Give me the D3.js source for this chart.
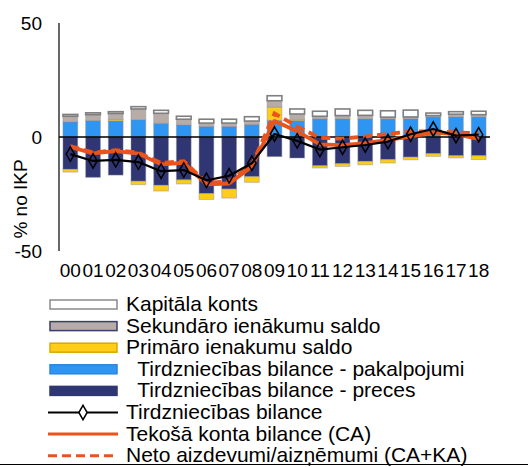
<!DOCTYPE html>
<html>
<head>
<meta charset="utf-8">
<script src="https://cdn.jsdelivr.net/npm/d3@7"></script>
<style>
  html, body { margin: 0; padding: 0; background: #fff; }
  svg { display: block; font-family: "Liberation Sans", Arial, sans-serif; }
</style>
</head>
<body>
<svg id="chart" width="528" height="467"></svg>
<script>
// ---- data (% no IKP) ----
const categories = ["00","01","02","03","04","05","06","07","08","09","10","11","12","13","14","15","16","17","18"];
const goods      = [-14.2,-17.7,-16.7,-19.4,-21.2,-18.8,-24.8,-22.8,-17.4,-8.6,-9.2,-12.6,-11.7,-10.7,-9.9,-8.8,-7.3,-8.2,-8.2];
const services   = [6.6,7.2,7.1,7.6,6.0,5.3,4.6,4.6,5.5,7.3,7.2,7.9,7.9,7.9,7.9,8.0,8.8,8.8,8.8];
const primary    = [-1.2,0,0.6,-1.5,-2.5,-1.8,-2.6,-4.0,-2.5,5.8,0.4,-1.0,-1.2,-1.5,-1.5,-1.2,-1.2,-1.0,-1.7];
const secondary  = [2.5,2.6,2.6,4.7,4.4,2.5,1.5,1.5,1.5,2.8,2.5,1.2,1.5,1.6,0.8,0.8,0.6,1.2,1.0];
const capital    = [0.8,0.8,0.8,1.0,1.3,1.3,1.7,1.7,1.9,2.2,2.2,2.2,2.9,2.2,2.8,3.0,1.1,1.1,1.5];
const tradeBal   = [-7.5,-10.5,-10.0,-11.0,-15.0,-14.5,-19.0,-17.0,-11.5,1.3,-1.7,-5.5,-4.5,-3.5,-2.0,1.2,3.5,0.6,1.0];
const currentAcc = [-4.4,-7.2,-6.2,-7.3,-12.0,-11.3,-20.8,-20.4,-13.0,7.0,2.5,-3.2,-3.6,-2.7,-1.3,0.2,2.0,1.2,-0.8];
const netLending = [-4.0,-6.8,-5.8,-6.8,-11.4,-10.6,-20.0,-19.5,-12.2,10.3,4.6,-0.4,-0.7,0.2,1.4,2.4,2.5,2.0,1.6];
const yTicks = [-50, 0, 50];
const yLabel = "% no IKP";

const seriesNames = {
  capital: "Kapitāla konts",
  secondary: "Sekundāro ienākumu saldo",
  primary: "Primāro ienakumu saldo",
  services: "  Tirdzniecības bilance - pakalpojumi",
  goods: "  Tirdzniecības bilance - preces",
  trade: "Tirdzniecības bilance",
  ca: "Tekošā konta bilance (CA)",
  net: "Neto aizdevumi/aizņēmumi (CA+KA)"
};

const styles = {
  goods:     {fill: "#2f3673", stroke: "#2f3673"},
  services:  {fill: "#2e96f2", stroke: "#2a86dc"},
  primary:   {fill: "#fdcd17", stroke: "#d9aa00"},
  secondary: {fill: "#b8aca6", stroke: "#3a3d6e"},
  capital:   {fill: "#ffffff", stroke: "#8a8a8a"}
};
const orange = "#e9541c";

const svg = d3.select("#chart");
const x = d3.scaleBand().domain(categories).range([59, 490]).paddingInner(0.35).paddingOuter(0.175);
const y = d3.scaleLinear().domain([-50, 50]).range([251, 23]);
const cx = c => x(c) + x.bandwidth() / 2;

// stacking: positives upward, negatives downward, order goods, services, primary, secondary, capital
const order = ["goods","services","primary","secondary","capital"];
const vals = {goods, services, primary, secondary, capital};
const rects = [];
categories.forEach((c, i) => {
  let pos = 0, neg = 0;
  order.forEach(k => {
    const v = vals[k][i];
    if (v >= 0) { rects.push({c, k, y0: pos, y1: pos + v}); pos += v; }
    else { rects.push({c, k, y0: neg + v, y1: neg}); neg += v; }
  });
});

svg.append("g").selectAll("rect").data(rects.filter(r => r.y1 - r.y0 > 0)).join("rect")
  .attr("x", d => x(d.c))
  .attr("width", x.bandwidth())
  .attr("y", d => y(d.y1))
  .attr("height", d => y(d.y0) - y(d.y1))
  .attr("fill", d => styles[d.k].fill)
  .attr("stroke", d => d.k === "capital" ? "#7f7f7f" : "rgba(140,140,150,0.45)")
  .attr("stroke-width", d => d.k === "capital" ? 1.6 : 1);

// axes
svg.append("line").attr("x1", 59).attr("x2", 59).attr("y1", y(50)).attr("y2", y(-50))
  .attr("stroke", "#000").attr("stroke-width", 1.2);
svg.append("line").attr("x1", 59).attr("x2", 490).attr("y1", y(0)).attr("y2", y(0))
  .attr("stroke", "#000").attr("stroke-width", 1.5);

svg.append("g").selectAll("text").data(yTicks).join("text")
  .attr("x", 42).attr("y", d => y(d) + 7)
  .attr("text-anchor", "end").attr("font-size", 19).attr("fill", "#000")
  .text(d => d);

svg.append("text")
  .attr("transform", "translate(27,199) rotate(-90)")
  .attr("text-anchor", "middle").attr("font-size", 19).attr("fill", "#000")
  .text(yLabel);

svg.append("g").selectAll("text").data(categories).join("text")
  .attr("x", d => cx(d)).attr("y", 277)
  .attr("text-anchor", "middle").attr("font-size", 19).attr("fill", "#000")
  .text(d => d);

// lines
const lineGen = arr => d3.line().x((d, i) => cx(categories[i])).y(d => y(d))(arr);

svg.append("path").attr("d", lineGen(currentAcc)).attr("fill", "none")
  .attr("stroke", orange).attr("stroke-width", 3.8).attr("stroke-linejoin", "round");
svg.append("path").attr("d", lineGen(netLending)).attr("fill", "none")
  .attr("stroke", orange).attr("stroke-width", 3.8).attr("stroke-dasharray", "9,5");
svg.append("path").attr("d", lineGen(tradeBal)).attr("fill", "none")
  .attr("stroke", "#000").attr("stroke-width", 2.2).attr("stroke-linejoin", "round");
const diamond = d3.symbol().type(d3.symbolDiamond).size(60);
svg.append("g").selectAll("path").data(tradeBal).join("path")
  .attr("d", diamond)
  .attr("transform", (d, i) => `translate(${cx(categories[i])},${y(d)})`)
  .attr("fill", "none").attr("stroke", "#000").attr("stroke-width", 1.5);

// legend
const legendItems = [
  {k: "capital", type: "rect"},
  {k: "secondary", type: "rect"},
  {k: "primary", type: "rect"},
  {k: "services", type: "rect"},
  {k: "goods", type: "rect"},
  {k: "trade", type: "line"},
  {k: "ca", type: "line"},
  {k: "net", type: "line"}
];
const lg = svg.append("g");
legendItems.forEach((it, i) => {
  const base = 311 + i * 21.6;
  const mid = base - 6.5;
  if (it.type === "rect") {
    lg.append("rect").attr("x", 50).attr("y", mid - 4.5).attr("width", 67).attr("height", 9)
      .attr("fill", styles[it.k].fill).attr("stroke", styles[it.k].stroke).attr("stroke-width", 1.5);
  } else if (it.k === "trade") {
    lg.append("line").attr("x1", 48).attr("x2", 118).attr("y1", mid).attr("y2", mid)
      .attr("stroke", "#000").attr("stroke-width", 2.2);
    lg.append("path").attr("d", diamond).attr("transform", `translate(83,${mid})`)
      .attr("fill", "#fff").attr("stroke", "#000").attr("stroke-width", 1.5);
  } else {
    lg.append("line").attr("x1", 48).attr("x2", 118).attr("y1", mid).attr("y2", mid)
      .attr("stroke", orange).attr("stroke-width", 3)
      .attr("stroke-dasharray", it.k === "net" ? "9,5" : null);
  }
  lg.append("text").attr("x", 126).attr("y", base)
    .attr("font-size", 21).attr("fill", "#000").attr("xml:space", "preserve")
    .style("white-space", "pre")
    .text(seriesNames[it.k]);
});

svg.append("line").attr("x1", 0).attr("x2", 528).attr("y1", 464.5).attr("y2", 464.5)
  .attr("stroke", "#000").attr("stroke-width", 1);
</script>
</body>
</html>
